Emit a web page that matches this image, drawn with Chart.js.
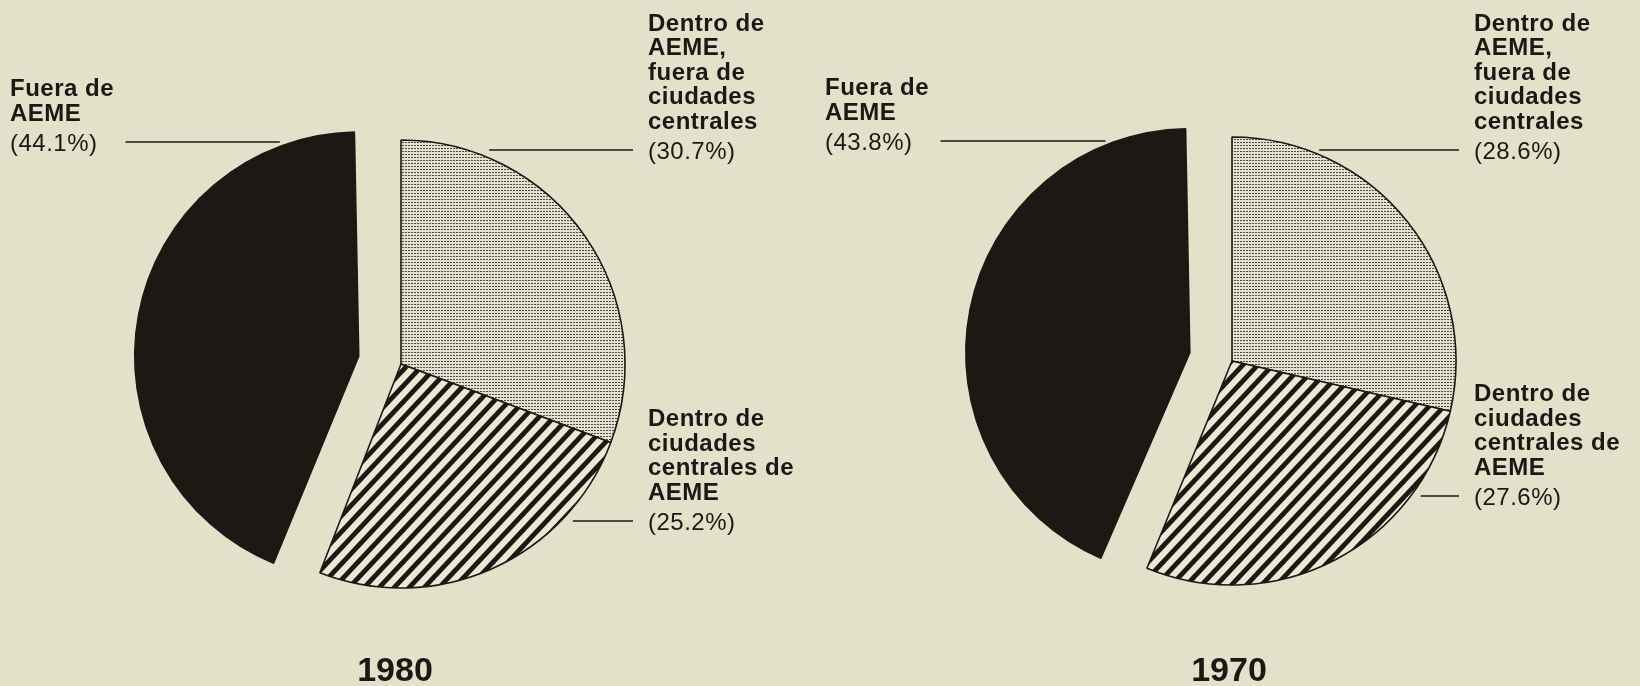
<!DOCTYPE html>
<html lang="es">
<head>
<meta charset="UTF-8">
<title>Población dentro y fuera de AEME, 1980 y 1970</title>
<script src="https://cdn.jsdelivr.net/npm/chart.js"></script>
<style>
  body { margin: 0; background: #e3e1c9; width: 1640px; height: 686px; overflow: hidden; position: relative; }
  canvas { position: absolute; top: 0; }
</style>
</head>
<body>
<canvas id="pie1980" width="820" height="686" style="left:0"></canvas>
<canvas id="pie1970" width="820" height="686" style="left:820px"></canvas>
<script>
// categorias (orden de las porciones, empezando arriba y en sentido horario)
const categories = [
  'Dentro de AEME, fuera de ciudades centrales',
  'Dentro de ciudades centrales de AEME',
  'Fuera de AEME'
];
const labelLines = [
  ['Dentro de', 'AEME,', 'fuera de', 'ciudades', 'centrales'],
  ['Dentro de', 'ciudades', 'centrales de', 'AEME'],
  ['Fuera de', 'AEME']
];
const values1980 = [30.7, 25.2, 44.1];
const values1970 = [28.6, 27.6, 43.8];
const years = ['1980', '1970'];

const INK = '#1c1814';
const FONT = '"Liberation Sans", Arial, sans-serif';

// tramas de relleno
function stipple() {
  const c = document.createElement('canvas');
  c.width = 3; c.height = 3;
  const g = c.getContext('2d');
  g.fillStyle = '#e3e1cf';
  g.fillRect(0, 0, 3, 3);
  g.fillStyle = '#4c4b43';
  g.fillRect(0, 1, 2, 1);
  return g.createPattern(c, 'repeat');
}
function stripes() {
  const W = 15, H = 16;
  const c = document.createElement('canvas');
  c.width = W; c.height = H;
  const g = c.getContext('2d');
  g.fillStyle = '#ebe9d6';
  g.fillRect(0, 0, W, H);
  g.strokeStyle = INK;
  g.lineWidth = 4.8;
  [[-W, H, W, -H], [-W, 2 * H, 2 * W, -H], [0, 2 * H, 2 * W, 0]].forEach(([a, b, c2, d]) => {
    g.beginPath(); g.moveTo(a, b); g.lineTo(c2, d); g.stroke();
  });
  return g.createPattern(c, 'repeat');
}

// Chart.js agranda el radio de la porcion desplazada; se deja igual que las demas
const keepRadius = {
  id: 'keepRadius',
  afterDatasetUpdate(chart, args) {
    args.meta.data.forEach(arc => {
      const off = (arc.options.offset || 0) / 4;
      if (!off) return;
      const circ = arc.endAngle - arc.startAngle;
      arc.outerRadius -= off * (1 - Math.sin(Math.min(Math.PI, circ)));
    });
  }
};

// etiquetas con linea guia
const sliceLabels = {
  id: 'sliceLabels',
  afterDatasetsDraw(chart, args, opts) {
    const ctx = chart.ctx;
    const meta = chart.getDatasetMeta(0);
    const R = meta.controller.outerRadius;
    const values = chart.data.datasets[0].data;
    ctx.save();
    meta.data.forEach((arc, i) => {
      const L = opts.layout[i];
      const p = arc.getProps(['x', 'y', 'startAngle', 'endAngle'], true);
      const mid = (p.startAngle + p.endAngle) / 2;
      const off = (arc.options.offset || 0) / 4;
      const cx = p.x + Math.cos(mid) * off;
      const cy = p.y + Math.sin(mid) * off;
      const dy = L.lineY - cy;
      const dx = Math.sqrt(Math.max(R * R - dy * dy, 0));
      const pct = '(' + values[i].toFixed(1) + '%)';

      ctx.letterSpacing = '0.5px';
      ctx.textBaseline = 'middle';
      ctx.textAlign = 'left';
      ctx.fillStyle = INK;
      ctx.font = '24px ' + FONT;
      const pctY = L.lineY + 2;
      ctx.fillText(pct, L.textX, pctY);
      const pctW = ctx.measureText(pct).width;

      ctx.font = 'bold 24px ' + FONT;
      const lines = labelLines[i];
      lines.forEach((t, k) => {
        ctx.fillText(t, L.textX, pctY - 30 - 24.5 * (lines.length - 1 - k));
      });

      ctx.strokeStyle = INK;
      ctx.lineWidth = 1.6;
      ctx.beginPath();
      if (L.side === 'right') {
        ctx.moveTo(cx + dx + L.gap, L.lineY);
        ctx.lineTo(L.textX - 15, L.lineY);
      } else {
        ctx.moveTo(L.textX + pctW + 28, L.lineY);
        ctx.lineTo(cx - dx - L.gap, L.lineY);
      }
      ctx.stroke();
    });

    // año
    ctx.letterSpacing = '0px';
    ctx.font = 'bold 34px ' + FONT;
    ctx.textAlign = 'center';
    ctx.textBaseline = 'alphabetic';
    ctx.fillText(opts.year, opts.yearX, 681);
    ctx.restore();
  }
};

function makePie(id, values, year, padding, layout, yearX) {
  return new Chart(document.getElementById(id), {
    type: 'pie',
    data: {
      labels: categories,
      datasets: [{
        data: values,
        backgroundColor: [stipple(), stripes(), INK],
        borderColor: INK,
        borderWidth: 1.6,
        offset: [0, 0, 172]
      }]
    },
    options: {
      responsive: false,
      animation: false,
      events: [],
      radius: 224,
      layout: { padding: padding },
      plugins: {
        legend: { display: false },
        tooltip: { enabled: false },
        sliceLabels: { layout: layout, year: year, yearX: yearX }
      }
    },
    plugins: [keepRadius, sliceLabels]
  });
}

makePie('pie1980', values1980, years[0],
  { left: 0, right: 18, top: 42, bottom: 0 },
  [
    { side: 'right', textX: 648, lineY: 150, gap: 22 },
    { side: 'right', textX: 648, lineY: 521, gap: 12 },
    { side: 'left', textX: 10, lineY: 142, gap: 13 }
  ], 395);

makePie('pie1970', values1970, years[1],
  { left: 4, right: 0, top: 36, bottom: 0 },
  [
    { side: 'right', textX: 654, lineY: 150, gap: 12 },
    { side: 'right', textX: 654, lineY: 496, gap: 10 },
    { side: 'left', textX: 5, lineY: 141, gap: 11 }
  ], 409);
</script>
</body>
</html>
